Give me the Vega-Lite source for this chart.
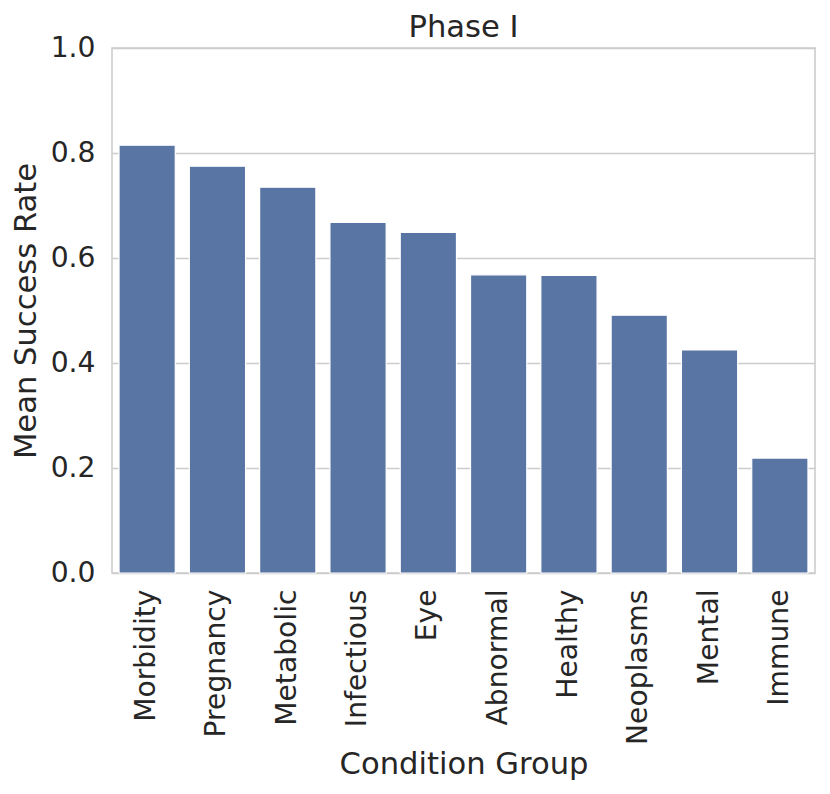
{
  "$schema": "https://vega.github.io/schema/vega-lite/v6.json",
  "width": 703,
  "height": 525,
  "autosize": {"type": "none"},
  "padding": {"left": 112, "top": 48, "right": 15, "bottom": 221},
  "background": "white",
  "title": {
    "text": "Phase I",
    "fontSize": 30.6,
    "font": "DejaVu Sans",
    "fontWeight": "normal",
    "color": "#262626",
    "baseline": "alphabetic",
    "frame": "group",
    "offset": 0,
    "dy": 34.5
  },
  "view": {"stroke": "#cccccc", "strokeWidth": 1.6},
  "data": {
    "values": [
      {"group": "Morbidity", "rate": 0.815},
      {"group": "Pregnancy", "rate": 0.775},
      {"group": "Metabolic", "rate": 0.735},
      {"group": "Infectious", "rate": 0.668},
      {"group": "Eye", "rate": 0.649},
      {"group": "Abnormal", "rate": 0.568},
      {"group": "Healthy", "rate": 0.567},
      {"group": "Neoplasms", "rate": 0.491},
      {"group": "Mental", "rate": 0.425},
      {"group": "Immune", "rate": 0.219}
    ]
  },
  "mark": {"type": "bar", "color": "#5875a4", "stroke": "white", "strokeWidth": 1.2},
  "encoding": {
    "x": {
      "field": "group",
      "type": "nominal",
      "sort": null,
      "scale": {"paddingInner": 0.2, "paddingOuter": 0.1},
      "axis": {
        "title": "Condition Group",
        "labelAngle": -90,
        "domain": false,
        "ticks": false,
        "grid": false,
        "labelPadding": 16,
        "titlePadding": 5
      }
    },
    "y": {
      "field": "rate",
      "type": "quantitative",
      "scale": {"domain": [0, 1], "nice": false},
      "axis": {
        "title": "Mean Success Rate",
        "values": [0, 0.2, 0.4, 0.6, 0.8, 1.0],
        "format": ".1f",
        "domain": false,
        "ticks": false,
        "grid": true,
        "gridColor": "#cccccc",
        "gridWidth": 1.4,
        "labelPadding": 17,
        "titlePadding": 9
      }
    }
  },
  "config": {
    "font": "DejaVu Sans",
    "axis": {
      "labelFont": "DejaVu Sans",
      "titleFont": "DejaVu Sans",
      "labelFontSize": 28.2,
      "titleFontSize": 30.6,
      "titleFontWeight": "normal",
      "labelColor": "#262626",
      "titleColor": "#262626"
    }
  }
}
